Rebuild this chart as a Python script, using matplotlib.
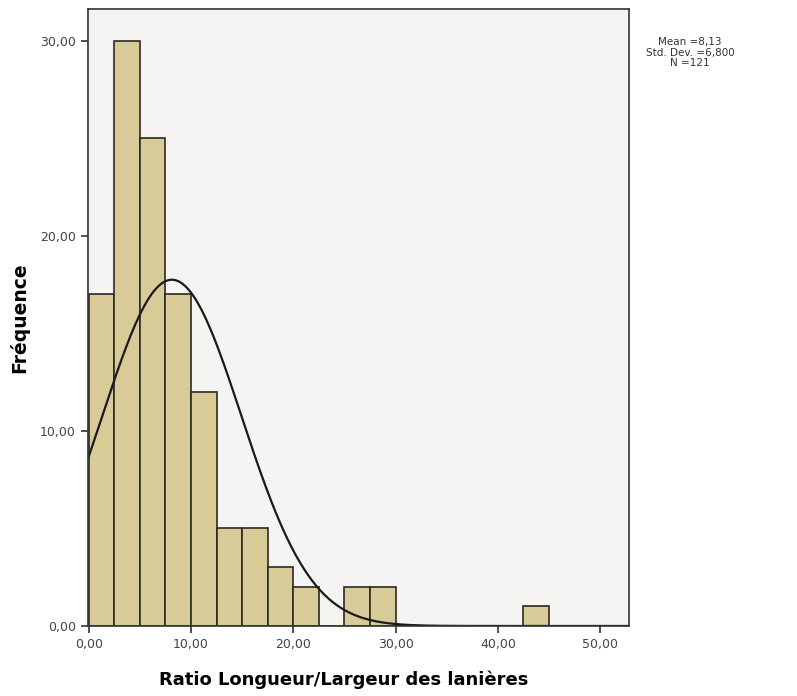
import numpy as np
import matplotlib
matplotlib.use("Agg")
from matplotlib import pyplot as plt

# histogram bins (width 2.5) and counts
bin_edges = np.arange(0, 47.5, 2.5)
counts = [17, 30, 25, 17, 12, 5, 5, 3, 2, 0, 2, 2, 0, 0, 0, 0, 0, 1]
mean = 8.13
std = 6.800
n = 121
x_ticks = [0, 10, 20, 30, 40, 50]
y_ticks = [0, 10, 20, 30]

fig = plt.figure(figsize=(7.97, 6.96), dpi=100)
ax = fig.add_axes([0.110, 0.1006, 0.679, 0.8858])
ax.set_facecolor("#f6f3f3")

widths = np.diff(bin_edges)
ax.bar(bin_edges[:-1], counts, width=widths, align="edge",
       color="#d8cb97", edgecolor="#2a2a22", linewidth=1.2)

# fitted normal curve
xs = np.linspace(0, 52.8, 400)
ys = n * 2.5 * np.exp(-0.5 * ((xs - mean) / std) ** 2) / (std * np.sqrt(2 * np.pi))
ax.plot(xs, ys, color="#1a1a1a", linewidth=1.6)

ax.set_xlim(-0.1, 52.8)
ax.set_ylim(0, 31.6)
ax.set_xticks(x_ticks)
ax.set_yticks(y_ticks)
ax.set_xticklabels([f"{v:.2f}".replace(".", ",") for v in x_ticks])
ax.set_yticklabels([f"{v:.2f}".replace(".", ",") for v in y_ticks])
ax.tick_params(direction="out", length=5, width=1.2, labelsize=9,
               labelcolor="#444444", color="#333333")
for s in ax.spines.values():
    s.set_color("#333333")
    s.set_linewidth(1.2)

ax.set_xlabel("Ratio Longueur/Largeur des lanières", fontsize=13,
              fontweight="bold")
ax.xaxis.set_label_coords(0.473, -0.072)
ax.set_ylabel("Fréquence", fontsize=13.5, fontweight="bold", labelpad=8)

stats = ("Mean =" + f"{mean:.2f}".replace(".", ",") + "\n"
         + "Std. Dev. =" + f"{std:.3f}".replace(".", ",") + "\n"
         + f"N ={n}")
fig.text(0.866, 0.924, stats, ha="center", va="center", fontsize=7.5,
         color="#333333", linespacing=1.05)

fig.savefig("out.png", dpi=100)
